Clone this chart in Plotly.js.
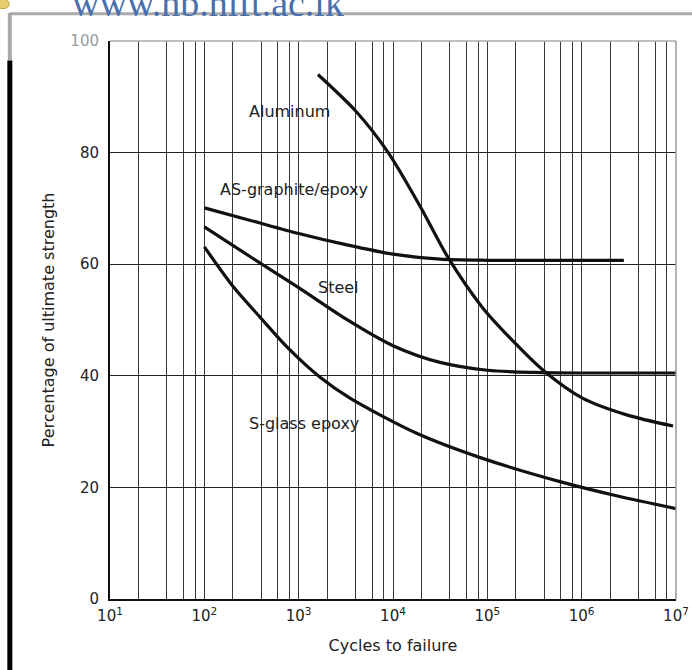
<!DOCTYPE html>
<html>
<head>
<meta charset="utf-8">
<script src="https://cdn.plot.ly/plotly-3.0.1.min.js"></script>
<style>html,body{margin:0;padding:0;background:#fff;}#chart{width:692px;height:670px;}</style>
</head>
<body>
<div id="chart"></div>
<script>
// Cycles to failure (x) and percentage of ultimate strength (y)
var aluminumX = [1600, 4000, 8900, 19500, 38000, 89000, 178000, 390000, 1020000, 3000000, 9300000];
var aluminumY = [94, 87.5, 80, 70.3, 61.3, 52.2, 46.6, 41, 36, 33, 31];

var graphiteX = [100, 316, 1000, 3160, 10000, 31600, 100000, 2800000];
var graphiteY = [70.1, 67.8, 65.5, 63.5, 61.8, 60.9, 60.7, 60.7];

var steelX = [100, 316, 1000, 3160, 10000, 31600, 100000, 316000, 1000000, 10000000];
var steelY = [66.7, 61.2, 55.8, 50.2, 45.4, 42.4, 41, 40.6, 40.5, 40.5];

var sglassX = [100, 204, 390, 760, 1700, 3500, 17800, 89000, 630000, 2340000, 10000000];
var sglassY = [63.1, 55.9, 50.5, 45.1, 39.7, 36, 29.7, 25.2, 20.9, 18.5, 16.2];

var seriesNames = ["Aluminum", "AS-graphite/epoxy", "Steel", "S-glass epoxy"];

// log-paper grid: decades and the lines drawn inside each decade
var decades = [10, 100, 1000, 10000, 100000, 1000000];
var gridMultipliers = [1, 2, 4, 6, 8];
var decadeLabels = ["10<sup>1</sup>", "10<sup>2</sup>", "10<sup>3</sup>", "10<sup>4</sup>", "10<sup>5</sup>", "10<sup>6</sup>", "10<sup>7</sup>"];

var tickvals = [], ticktext = [];
decades.forEach(function (d, i) {
  gridMultipliers.forEach(function (m) {
    tickvals.push(d * m);
    ticktext.push(m === 1 ? decadeLabels[i] : "");
  });
});
tickvals.push(10000000);
ticktext.push(decadeLabels[6]);

var yTicks = [0, 20, 40, 60, 80, 100];
var yTickText = ["0", "20", "40", "60", "80", "<span style='fill:#9a9a9a'>100</span>"];

function curve(x, y, name) {
  return {
    x: x, y: y, name: name, type: "scatter", mode: "lines",
    line: {color: "#111", width: 3.2, shape: "spline", smoothing: 0.8},
    hoverinfo: "skip", showlegend: false, cliponaxis: false
  };
}

var data = [
  curve(aluminumX, aluminumY, seriesNames[0]),
  curve(graphiteX, graphiteY, seriesNames[1]),
  curve(steelX, steelY, seriesNames[2]),
  curve(sglassX, sglassY, seriesNames[3])
];

var fontFam = "DejaVu Sans, Verdana, sans-serif";

var layout = {
  width: 692, height: 670,
  margin: {l: 110, r: 16, t: 41, b: 71},
  paper_bgcolor: "#fff", plot_bgcolor: "#fff",
  font: {family: fontFam, size: 15, color: "#222"},
  xaxis: {
    type: "log", range: [1, 7],
    tickmode: "array", tickvals: tickvals, ticktext: ticktext,
    showgrid: true, gridcolor: "#3a3a3a", gridwidth: 1,
    showline: true, linecolor: "#111", linewidth: 2,
    ticks: "", ticklabelstandoff: 2,
    tickfont: {size: 15, color: "#222"},
    zeroline: false,
    title: {text: "Cycles to failure", font: {size: 16, color: "#222"}, standoff: 16}
  },
  yaxis: {
    range: [0, 100], tickmode: "array", tickvals: yTicks, ticktext: yTickText,
    showgrid: true, gridcolor: "#222", gridwidth: 1,
    showline: true, linecolor: "#111", linewidth: 2,
    ticks: "", ticklabelstandoff: 6,
    tickfont: {size: 15, color: "#222"},
    zeroline: false,
    title: {text: "Percentage of ultimate strength", font: {size: 16, color: "#222"}, standoff: 12}
  },
  shapes: [
    // top and right border of the chart paper
    {type: "line", xref: "paper", yref: "paper", x0: 0, x1: 1, y0: 1, y1: 1, line: {color: "#aaa", width: 1.5}},
    {type: "line", xref: "paper", yref: "paper", x0: 1, x1: 1, y0: 0, y1: 1, line: {color: "#999", width: 1.5}},
    // page frame from the scan
    {type: "line", xref: "paper", yref: "paper", x0: -0.177, x1: 1.03, y0: 1.049, y1: 1.049, line: {color: "#aaa", width: 3}},
    {type: "line", xref: "paper", yref: "paper", x0: -0.177, x1: -0.177, y0: 1.05, y1: 0.965, line: {color: "#aaa", width: 4}},
    {type: "line", xref: "paper", yref: "paper", x0: -0.177, x1: -0.177, y0: 0.965, y1: -0.13, line: {color: "#000", width: 5}},
    {type: "circle", xref: "paper", yref: "paper", x0: -0.2, x1: -0.178, y0: 1.058, y1: 1.075, fillcolor: "#e8d070", line: {color: "#b8a040", width: 1}}
  ],
  annotations: [
    {text: seriesNames[0], x: 2.908, y: 87.3, xref: "x", yref: "y", showarrow: false, font: {size: 16, color: "#222"}},
    {text: seriesNames[1], x: 2.95, y: 73.3, xref: "x", yref: "y", showarrow: false, font: {size: 16, color: "#222"}},
    {text: seriesNames[2], x: 3.42, y: 55.9, xref: "x", yref: "y", showarrow: false, font: {size: 16, color: "#222"}},
    {text: seriesNames[3], x: 3.06, y: 31.4, xref: "x", yref: "y", showarrow: false, font: {size: 16, color: "#222"}},
    {text: "www.nb.nift.ac.lk", xref: "paper", yref: "paper", x: -0.07, y: 1.027, xanchor: "left", yanchor: "bottom",
     showarrow: false, font: {family: "Liberation Serif, Times New Roman, serif", size: 38, color: "#4a6fae"}}
  ]
};

Plotly.newPlot("chart", data, layout, {staticPlot: true, displayModeBar: false});
</script>
</body>
</html>
